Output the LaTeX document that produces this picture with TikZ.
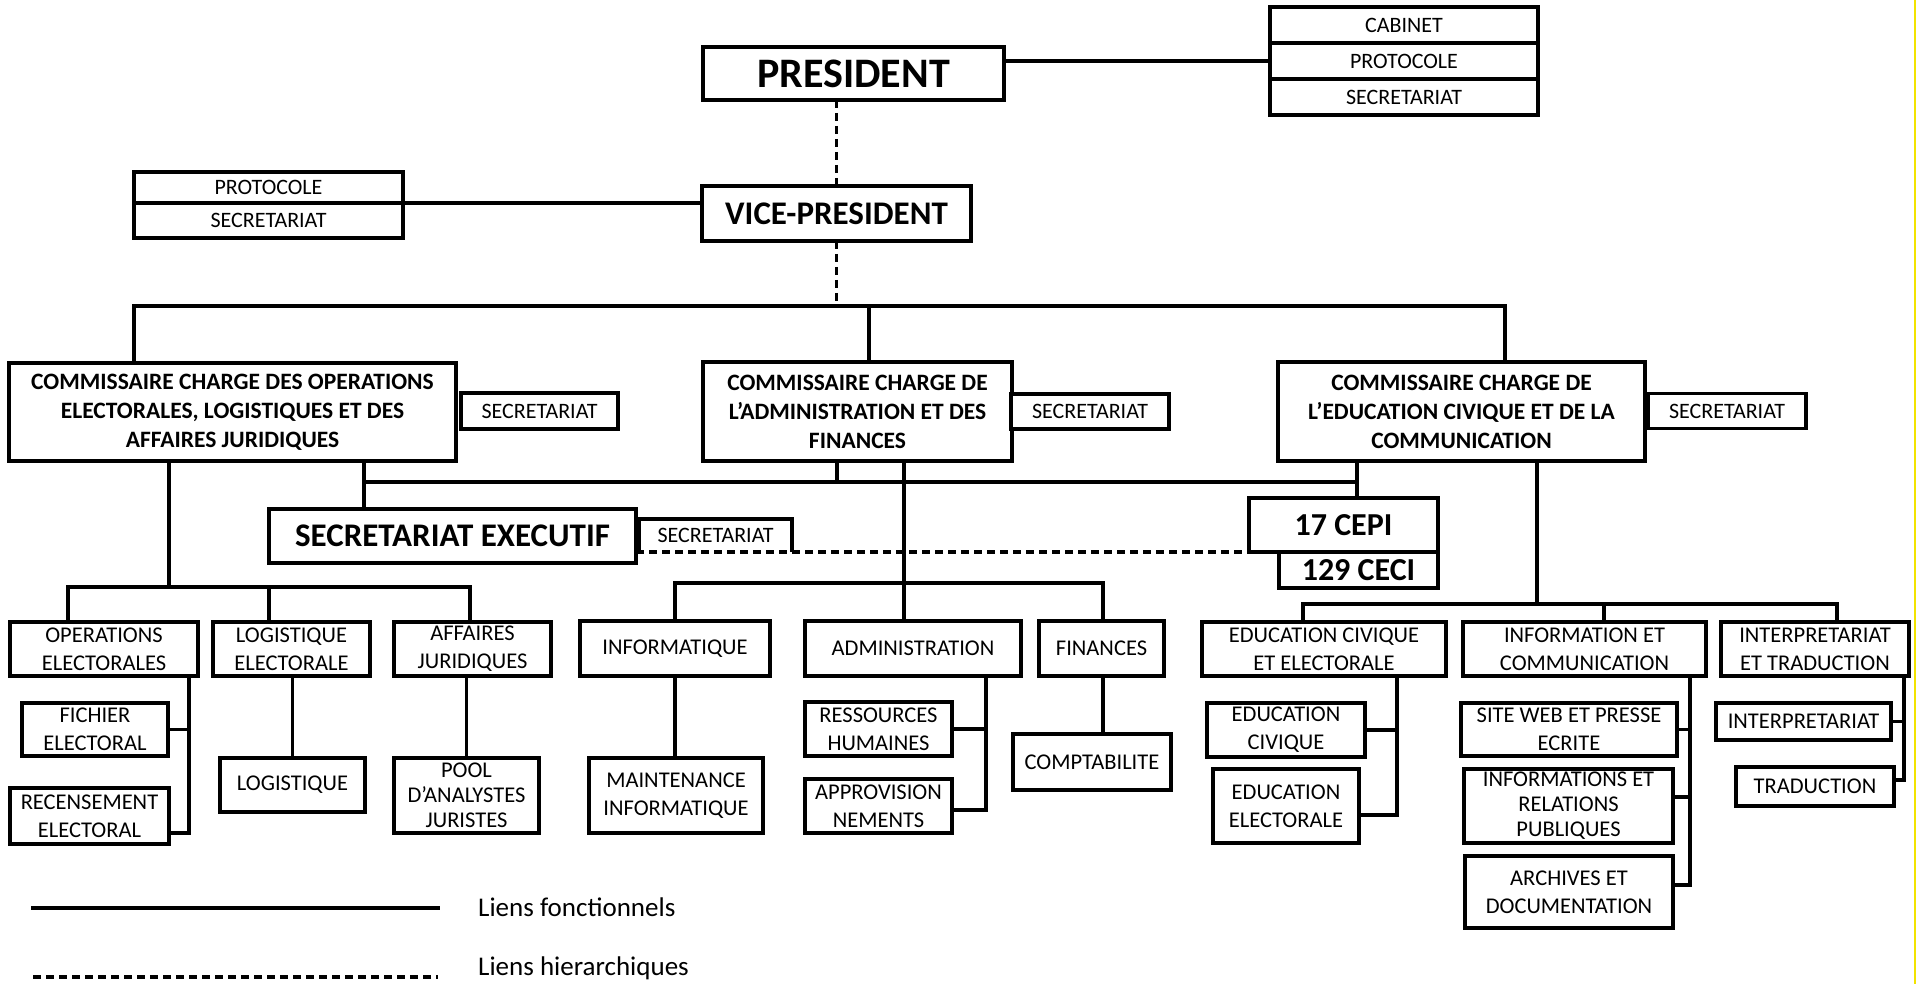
\documentclass[tikz,border=0pt]{standalone}
\usepackage{fontspec}
\setmainfont{Carlito}
\newcommand\fsz[2]{\fontsize{#1}{#2}\selectfont}
\definecolor{edgey}{HTML}{F2E300}
\tikzset{
  bx/.style={draw, line width=3.5pt, fill=white, inner sep=0pt, outer sep=0pt, align=center},
  big/.style={font=\fsz{42}{48}\bfseries},
  mid/.style={font=\fsz{33}{38}\bfseries},
  com/.style={font=\fsz{23.5}{29}\bfseries},
  sm/.style={font=\fsz{22}{27}},
  dep/.style={font=\fsz{22.5}{28}},
  dep3/.style={font=\fsz{22.5}{25}},
  ln/.style={line width=3.5pt, line cap=rect},
  dsh/.style={line width=3.5pt, dash pattern=on 8pt off 5pt},
}
\begin{document}
\begin{tikzpicture}[x=1pt,y=-1pt]
\fill[white] (0,0) rectangle (1919,984);
\useasboundingbox (0,0) rectangle (1919,984);
\draw[edgey, line width=1.5pt] (1915,0) -- (1915,984);

% top level
\node[bx,big,minimum width=301,minimum height=53] (pres) at (853.5,73.5) {PRESIDENT};
\node[bx,sm,minimum width=268,minimum height=36] (cab) at (1404,25) {CABINET};
\node[bx,sm,minimum width=268,minimum height=36] (cprot) at (1404,61) {PROTOCOLE};
\node[bx,sm,minimum width=268,minimum height=36] (csec) at (1404,97) {SECRETARIAT};
\draw[ln] (cprot.west -| pres.east) -- (cprot.west);

\node[bx,mid,minimum width=269,minimum height=55] (vp) at (836.5,213.5) {VICE-PRESIDENT};
\node[bx,sm,minimum width=269,minimum height=31] (lprot) at (268.5,187.5) {PROTOCOLE};
\node[bx,sm,minimum width=269,minimum height=35] (lsec) at (268.5,220.5) {SECRETARIAT};
\draw[ln] (lprot.south east) -- (lprot.south east -| vp.west);
\draw[dsh] (vp.north |- pres.south) -- (vp.north);

% commissioners
\node[bx,com,minimum width=447,minimum height=98] (c1) at (232.5,412) {COMMISSAIRE CHARGE DES OPERATIONS\\ELECTORALES, LOGISTIQUES ET DES\\AFFAIRES JURIDIQUES};
\node[bx,com,minimum width=309,minimum height=99] (c2) at (857.5,411.5) {COMMISSAIRE CHARGE DE\\L’ADMINISTRATION ET DES\\FINANCES};
\node[bx,com,minimum width=367,minimum height=99] (c3) at (1461.5,411.5) {COMMISSAIRE CHARGE DE\\L’EDUCATION CIVIQUE ET DE LA\\COMMUNICATION};
\node[bx,sm,minimum width=157,minimum height=36] (s1) at (539.5,411) {SECRETARIAT};
\node[bx,sm,minimum width=158,minimum height=35] (s2) at (1090,411.5) {SECRETARIAT};
\node[bx,sm,minimum width=158,minimum height=35] (s3) at (1727,411) {SECRETARIAT};

\coordinate (b1) at (134,306);
\coordinate (b2) at (869,306);
\coordinate (b3) at (1505,306);
\draw[dsh] (vp.south) -- (vp.south |- b1);
\draw[ln] (b1 |- c1.north) -- (b1) -- (b3) -- (b3 |- c3.north);
\draw[ln] (b2) -- (b2 |- c2.north);

% executive secretariat and CEPI
\node[bx,mid,minimum width=367,minimum height=54] (se) at (452.5,536) {SECRETARIAT EXECUTIF};
\node[sm,inner sep=0pt,minimum width=153,minimum height=33] (sesec) at (715.5,535.5) {SECRETARIAT};
\draw[line width=3.5pt] (sesec.south west) -- (sesec.north west) -- (sesec.north east) -- (sesec.south east);
\node[bx,font=\fsz{32}{36}\bfseries,minimum width=189,minimum height=54] (cepi) at (1343.5,525) {17 CEPI};
\node[bx,font=\fsz{32}{36}\bfseries,minimum width=159,minimum height=36] (ceci) at (1358.5,570) {129 CECI};
\draw[dsh] (se.east |- sesec.south) -- (sesec.south -| cepi.west);

\coordinate (m1) at (364,482);
\coordinate (m2) at (837,482);
\coordinate (m3) at (1357,482);
\draw[ln] (m1 |- c1.south) -- (m1 |- se.north);
\draw[ln] (m1) -- (m3);
\draw[ln] (m2 |- c2.south) -- (m2);
\draw[ln] (m3 |- c3.south) -- (m3 |- cepi.north);

% departments of commissioner 1
\node[bx,dep,minimum width=188,minimum height=54] (op) at (104,649) {OPERATIONS\\ELECTORALES};
\node[bx,dep,minimum width=157,minimum height=54] (loge) at (291.5,649) {LOGISTIQUE\\ELECTORALE};
\node[bx,dep,minimum width=157,minimum height=54] (aff) at (472.5,649) {AFFAIRES\\JURIDIQUES};
\node[bx,dep,minimum width=146,minimum height=53] (fich) at (95,729.5) {FICHIER\\ELECTORAL};
\node[bx,dep,minimum width=159,minimum height=56] (recen) at (89.5,816) {RECENSEMENT\\ELECTORAL};
\node[bx,dep,minimum width=145,minimum height=54] (log) at (292.5,785) {LOGISTIQUE};
\node[bx,dep3,minimum width=145,minimum height=75] (pool) at (466.5,795.5) {POOL\\D’ANALYSTES\\JURISTES};

\coordinate (d0) at (169,587);
\coordinate (d1) at (68,587);
\coordinate (d2) at (269,587);
\coordinate (d3) at (470,587);
\draw[ln] (d0 |- c1.south) -- (d0);
\draw[ln] (d1 |- op.north) -- (d1) -- (d3) -- (d3 |- aff.north);
\draw[ln] (d2) -- (d2 |- loge.north);
\coordinate (t1) at (189,833);
\draw[ln] (t1 |- op.south) -- (t1) -- (t1 -| recen.east);
\draw[ln] (fich.east) -- (fich.east -| t1);
\draw[ln] (log.north) -- (log.north |- loge.south);
\draw[ln] (pool.north) -- (pool.north |- aff.south);

% departments of commissioner 2
\node[bx,dep,minimum width=190,minimum height=55] (info) at (675,648.5) {INFORMATIQUE};
\node[bx,dep,minimum width=216,minimum height=55] (admin) at (913,648.5) {ADMINISTRATION};
\node[bx,dep,minimum width=125,minimum height=55] (fin) at (1101.5,648.5) {FINANCES};
\node[bx,dep,minimum width=174,minimum height=75] (maint) at (676,795.5) {MAINTENANCE\\INFORMATIQUE};
\node[bx,dep,minimum width=147,minimum height=54] (rh) at (878.5,729) {RESSOURCES\\HUMAINES};
\node[bx,dep,minimum width=147,minimum height=54] (appro) at (878.5,806) {APPROVISION\\NEMENTS};
\node[bx,dep,minimum width=158,minimum height=56] (compta) at (1092,762) {COMPTABILITE};

\coordinate (e0) at (904,583);
\coordinate (e3) at (1103,583);
\draw[ln] (e0 |- c2.south) -- (e0 |- admin.north);
\draw[ln] (info.north) -- (info.north |- e0) -- (e3) -- (e3 |- fin.north);
\draw[ln] (info.south) -- (info.south |- maint.north);
\coordinate (t2) at (986,810);
\draw[ln] (t2 |- admin.south) -- (t2) -- (t2 -| appro.east);
\draw[ln] (rh.east) -- (rh.east -| t2);
\draw[ln] (e3 |- fin.south) -- (e3 |- compta.north);

% departments of commissioner 3
\node[bx,dep,minimum width=244,minimum height=54] (ece) at (1324,649) {EDUCATION CIVIQUE\\ET ELECTORALE};
\node[bx,dep,minimum width=243,minimum height=54] (ic) at (1584.5,649) {INFORMATION ET\\COMMUNICATION};
\node[bx,dep,minimum width=188,minimum height=54] (it) at (1815,649) {INTERPRETARIAT\\ET TRADUCTION};
\node[bx,dep,minimum width=158,minimum height=54] (ec) at (1286,730) {EDUCATION\\CIVIQUE};
\node[bx,dep,minimum width=146,minimum height=74] (ee) at (1286,806) {EDUCATION\\ELECTORALE};
\node[bx,dep,minimum width=216,minimum height=53] (sw) at (1569,729.5) {SITE WEB ET PRESSE\\ECRITE};
\node[bx,dep3,minimum width=209,minimum height=74] (irp) at (1568.5,806) {INFORMATIONS ET\\RELATIONS\\PUBLIQUES};
\node[bx,dep,minimum width=208,minimum height=72] (arch) at (1569,892) {ARCHIVES ET\\DOCUMENTATION};
\node[bx,dep,minimum width=175,minimum height=37] (interp) at (1803.5,721.5) {INTERPRETARIAT};
\node[bx,dep,minimum width=158,minimum height=39] (trad) at (1815,786.5) {TRADUCTION};

\coordinate (f0) at (1537,604);
\coordinate (f1) at (1303,604);
\coordinate (f2) at (1604,604);
\coordinate (f3) at (1837,604);
\draw[ln] (f0 |- c3.south) -- (f0);
\draw[ln] (f1 |- ece.north) -- (f1) -- (f3) -- (f3 |- it.north);
\draw[ln] (f2) -- (f2 |- ic.north);
\coordinate (t3) at (1397,815);
\draw[ln] (t3 |- ece.south) -- (t3) -- (t3 -| ee.east);
\draw[ln] (ec.east) -- (ec.east -| t3);
\coordinate (t4) at (1690,885);
\coordinate (t4b) at (1690,797);
\draw[ln] (t4 |- ic.south) -- (t4) -- (t4 -| arch.east);
\draw[ln] (sw.east) -- (sw.east -| t4);
\draw[ln] (t4b -| irp.east) -- (t4b);
\coordinate (t5) at (1904,780);
\draw[ln] (t5 |- it.south) -- (t5) -- (t5 -| trad.east);
\draw[ln] (interp.east) -- (interp.east -| t5);

% legend
\coordinate (la) at (33,908);
\coordinate (lb) at (438,908);
\coordinate (lc) at (33,977);
\coordinate (ld) at (438,977);
\draw[ln] (la) -- (lb);
\draw[dsh] (lc) -- (ld);
\node[anchor=west,inner sep=0pt,font=\fsz{27}{32}] (lt1) at (478,907) {Liens fonctionnels};
\node[anchor=west,inner sep=0pt,font=\fsz{27}{32}] (lt2) at (478,968) {Liens hierarchiques};
\end{tikzpicture}
\end{document}
